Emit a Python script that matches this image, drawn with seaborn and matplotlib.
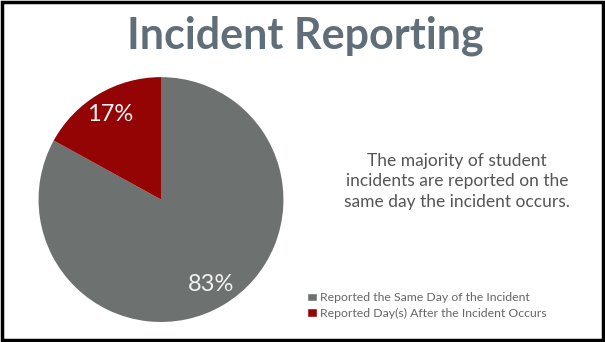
import matplotlib
matplotlib.use("Agg")
import matplotlib.pyplot as plt
import seaborn as sns
from matplotlib.patches import Rectangle

sns.set_style("white")
plt.rcParams['font.family'] = ['Lato', 'DejaVu Sans']

categories = ["Reported the Same Day of the Incident",
              "Reported Day(s) After the Incident Occurs"]
values = [83, 17]
colors = ["#6d7270", "#950404"]
title = "Incident Reporting"
note = "The majority of student\nincidents are reported on the\nsame day the incident occurs."

fig = plt.figure(figsize=(6.05, 3.42), dpi=100)
fig.patch.set_facecolor("white")

ax = fig.add_axes([0.0636, 0.0585, 0.405, 0.716])
wedges, texts, autotexts = ax.pie(
    values, colors=colors, startangle=90, counterclock=False,
    autopct=lambda p: f"{p:.0f}%", pctdistance=0.81,
    textprops=dict(color="#f2f2f2", fontsize=17),
    wedgeprops=dict(linewidth=0))
ax.set_xlim(-1, 1)
ax.set_ylim(-1, 1)
ax.set_aspect("equal")
ax.axis("off")

fig.text(0.505, 0.895, title, ha="center", va="center", fontsize=31,
         fontweight="bold", color="#5f6e78")
fig.text(0.755, 0.47, note, ha="center", va="center", fontsize=12.5,
         color="#555555", linespacing=1.35)

handles = [Rectangle((0, 0), 1, 1, facecolor=c) for c in colors]
fig.legend(handles, categories, loc="center left",
           bbox_to_anchor=(0.500, 0.107), frameon=False, fontsize=8.8,
           labelcolor="#666666", handlelength=0.75, handleheight=0.75,
           handletextpad=0.25, labelspacing=0.35, borderaxespad=0)

fig.add_artist(Rectangle((0.004, 0.006), 0.992, 0.988, transform=fig.transFigure,
                         fill=False, edgecolor="black", linewidth=2.5))

fig.savefig("out.png", dpi=100)
